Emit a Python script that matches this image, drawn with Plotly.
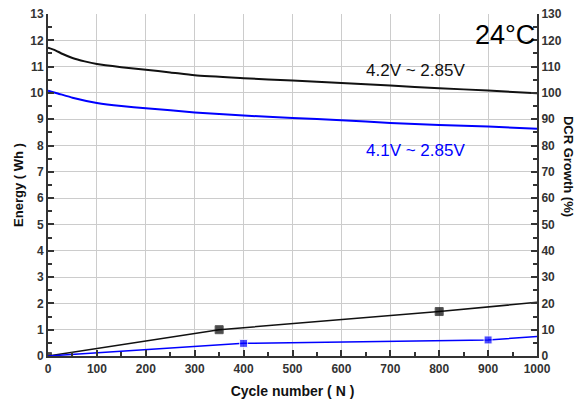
import plotly.graph_objects as go

# Energy (left axis, Wh)
cyc_42 = [0, 15, 30, 50, 75, 100, 150, 200, 250, 300, 400, 500, 600, 700, 800, 900, 1000]
energy_42 = [11.72, 11.62, 11.48, 11.33, 11.2, 11.1, 10.98, 10.88, 10.78, 10.67, 10.56, 10.47, 10.38, 10.28, 10.18, 10.09, 9.99]

cyc_41 = [0, 20, 50, 100, 150, 200, 300, 400, 500, 600, 700, 800, 900, 1000]
energy_41 = [10.08, 9.98, 9.82, 9.62, 9.5, 9.42, 9.26, 9.14, 9.05, 8.96, 8.86, 8.78, 8.72, 8.64]

# DCR growth (right axis, %)
dcr_cyc_42 = [0, 350, 800, 1000]
dcr_42 = [0, 10.0, 16.9, 20.4]
dcr_cyc_41 = [0, 400, 900, 1000]
dcr_41 = [0, 4.8, 6.1, 7.4]

BLUE = "#0000ff"
BLACK = "#111111"
TICKC = "#333333"
FONT = "Liberation Sans, Arial, sans-serif"

fig = go.Figure()
fig.add_trace(go.Scatter(x=cyc_42, y=energy_42, mode="lines",
                         line=dict(color=BLACK, width=2, shape="spline", smoothing=0.6)))
fig.add_trace(go.Scatter(x=cyc_41, y=energy_41, mode="lines",
                         line=dict(color=BLUE, width=2, shape="spline", smoothing=0.4)))
fig.add_trace(go.Scatter(x=dcr_cyc_42, y=dcr_42, yaxis="y2", mode="lines+markers",
                         line=dict(color=BLACK, width=1.5),
                         marker=dict(symbol="square", size=[7, 8, 8, 0], color="#000000")))
fig.add_trace(go.Scatter(x=dcr_cyc_41, y=dcr_41, yaxis="y2", mode="lines+markers",
                         line=dict(color=BLUE, width=1.5),
                         marker=dict(symbol="square", size=[0, 8, 8, 0], color=BLUE)))

axis_common = dict(
    showline=True, linecolor="#333333", linewidth=2, mirror=False,
    ticks="inside", ticklen=6, tickwidth=1.5, tickcolor="#333333",
    tickfont=dict(family=FONT, size=12, color=TICKC, weight="bold"),
    zeroline=False, automargin=False,
)

fig.update_layout(
    width=585, height=405,
    margin=dict(l=48, r=48, t=14, b=49),
    paper_bgcolor="white", plot_bgcolor="white",
    showlegend=False,
    font=dict(family=FONT),
    xaxis=dict(range=[0, 1000], dtick=100, showgrid=True, gridcolor="#cccccc", gridwidth=1,
               minor=dict(ticks="inside", dtick=50, ticklen=4, tickcolor="#333333"),
               ticklabelstandoff=1,
               title=dict(text="Cycle number ( N )", font=dict(family=FONT, size=14, color="#111", weight="bold"), standoff=11),
               **axis_common),
    yaxis=dict(range=[0, 13], dtick=1, showgrid=True, gridcolor="#cccccc", gridwidth=1,
               minor=dict(ticks="inside", dtick=0.5, ticklen=4, tickcolor="#333333"),
               title=dict(text="Energy ( Wh )", font=dict(family=FONT, size=13, color="#111", weight="bold"), standoff=4),
               **axis_common),
    yaxis2=dict(range=[0, 130], dtick=10, overlaying="y", side="right", showgrid=False,
                minor=dict(ticks="inside", dtick=5, ticklen=4, tickcolor="#333333"),
                **axis_common),
    annotations=[
        dict(text="24°C", x=1000, y=12.85, xref="x", yref="y", xanchor="right", yanchor="top",
             showarrow=False, font=dict(family=FONT, size=27, color="#000")),
        dict(text="4.2V ~ 2.85V", x=752, y=10.84, xref="x", yref="y",
             showarrow=False, font=dict(family=FONT, size=17, color="#111")),
        dict(text="4.1V ~ 2.85V", x=752, y=7.83, xref="x", yref="y",
             showarrow=False, font=dict(family=FONT, size=17, color=BLUE)),
        dict(text="DCR Growth (%)", x=1.066, y=0.555, xref="paper", yref="paper", textangle=90,
             xanchor="center", yanchor="middle",
             showarrow=False, font=dict(family=FONT, size=13, color="#111", weight="bold")),
    ],
)

fig.write_html("out.html", config={"displayModeBar": False},
               post_script="document.body.style.margin='0px';document.body.style.overflow='hidden';")
